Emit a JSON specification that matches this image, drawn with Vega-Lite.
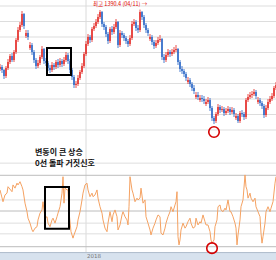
{
"$schema":"https://vega.github.io/schema/vega-lite/v6.json",
"width":276,"height":260,"padding":0,"autosize":{"type":"none"},
"config":{"view":{"stroke":null},"font":"Noto Sans CJK KR"},
"datasets":{
"candles":[
{"t":0,"o":1331,"c":1333,"h":1336,"l":1329},{"t":2,"o":1333,"c":1330,"h":1335,"l":1327},{"t":4,"o":1330,"c":1324,"h":1331,"l":1321},{"t":6,"o":1324,"c":1332,"h":1334,"l":1322},{"t":8,"o":1332,"c":1338,"h":1341,"l":1330},{"t":10,"o":1338,"c":1344,"h":1346,"l":1336},{"t":12,"o":1344,"c":1340,"h":1347,"l":1338},{"t":14,"o":1340,"c":1348,"h":1350,"l":1338},{"t":16,"o":1348,"c":1360,"h":1362,"l":1346},{"t":18,"o":1360,"c":1370,"h":1373,"l":1358},{"t":20,"o":1370,"c":1375,"h":1378,"l":1368},{"t":22,"o":1375,"c":1386,"h":1389,"l":1373},{"t":24,"o":1386,"c":1374,"h":1387,"l":1371},{"t":26,"o":1364,"c":1367,"h":1370,"l":1362},{"t":28,"o":1367,"c":1363,"h":1370,"l":1360},{"t":30,"o":1352,"c":1355,"h":1358,"l":1350},{"t":32,"o":1355,"c":1348,"h":1357,"l":1345},{"t":34,"o":1348,"c":1340,"h":1350,"l":1337},{"t":36,"o":1340,"c":1334,"h":1342,"l":1331},{"t":38,"o":1334,"c":1337,"h":1340,"l":1332},{"t":40,"o":1337,"c":1343,"h":1345,"l":1335},{"t":42,"o":1343,"c":1351,"h":1354,"l":1341},{"t":44,"o":1351,"c":1339,"h":1352,"l":1336},{"t":46,"o":1339,"c":1337,"h":1342,"l":1334},{"t":48,"o":1337,"c":1332,"h":1339,"l":1329},{"t":50,"o":1332,"c":1330,"h":1335,"l":1327},{"t":52,"o":1330,"c":1335,"h":1338,"l":1328},{"t":54,"o":1335,"c":1333,"h":1337,"l":1330},{"t":56,"o":1333,"c":1338,"h":1340,"l":1331},{"t":58,"o":1338,"c":1335,"h":1341,"l":1332},{"t":60,"o":1335,"c":1339,"h":1342,"l":1333},{"t":62,"o":1339,"c":1336,"h":1341,"l":1333},{"t":64,"o":1336,"c":1340,"h":1343,"l":1334},{"t":66,"o":1340,"c":1345,"h":1348,"l":1338},{"t":68,"o":1345,"c":1339,"h":1347,"l":1336},{"t":70,"o":1339,"c":1330,"h":1341,"l":1327},{"t":72,"o":1330,"c":1323,"h":1332,"l":1320},{"t":74,"o":1323,"c":1315,"h":1325,"l":1312},{"t":76,"o":1315,"c":1316,"h":1319,"l":1312},{"t":78,"o":1316,"c":1322,"h":1325,"l":1314},{"t":80,"o":1322,"c":1328,"h":1330,"l":1320},{"t":82,"o":1328,"c":1334,"h":1337,"l":1326},{"t":84,"o":1334,"c":1346,"h":1348,"l":1332},{"t":86,"o":1346,"c":1356,"h":1359,"l":1344},{"t":88,"o":1356,"c":1363,"h":1366,"l":1354},{"t":90,"o":1363,"c":1360,"h":1365,"l":1357},{"t":92,"o":1360,"c":1371,"h":1373,"l":1358},{"t":94,"o":1371,"c":1374,"h":1377,"l":1369},{"t":96,"o":1374,"c":1378,"h":1381,"l":1372},{"t":98,"o":1378,"c":1383,"h":1386,"l":1376},{"t":100,"o":1383,"c":1388,"h":1390,"l":1381},{"t":102,"o":1388,"c":1376,"h":1389,"l":1373},{"t":104,"o":1376,"c":1373,"h":1378,"l":1370},{"t":106,"o":1373,"c":1366,"h":1375,"l":1363},{"t":108,"o":1366,"c":1359,"h":1368,"l":1356},{"t":110,"o":1359,"c":1371,"h":1373,"l":1357},{"t":112,"o":1371,"c":1368,"h":1374,"l":1365},{"t":114,"o":1368,"c":1373,"h":1376,"l":1366},{"t":116,"o":1373,"c":1378,"h":1381,"l":1371},{"t":118,"o":1378,"c":1355,"h":1379,"l":1352},{"t":120,"o":1355,"c":1367,"h":1370,"l":1353},{"t":122,"o":1367,"c":1365,"h":1369,"l":1362},{"t":124,"o":1365,"c":1362,"h":1367,"l":1359},{"t":126,"o":1362,"c":1359,"h":1364,"l":1356},{"t":128,"o":1359,"c":1356,"h":1361,"l":1353},{"t":130,"o":1356,"c":1362,"h":1365,"l":1354},{"t":132,"o":1362,"c":1376,"h":1379,"l":1360},{"t":134,"o":1376,"c":1378,"h":1381,"l":1374},{"t":136,"o":1378,"c":1372,"h":1380,"l":1369},{"t":138,"o":1372,"c":1370,"h":1375,"l":1367},{"t":140,"o":1370,"c":1388,"h":1390.4,"l":1368},{"t":142,"o":1388,"c":1383,"h":1389,"l":1380},{"t":144,"o":1383,"c":1375,"h":1385,"l":1372},{"t":146,"o":1375,"c":1370,"h":1377,"l":1367},{"t":148,"o":1370,"c":1367,"h":1372,"l":1364},{"t":150,"o":1361,"c":1363,"h":1366,"l":1359},{"t":152,"o":1363,"c":1358,"h":1365,"l":1355},{"t":154,"o":1358,"c":1354,"h":1360,"l":1351},{"t":156,"o":1354,"c":1357,"h":1360,"l":1352},{"t":158,"o":1357,"c":1360,"h":1363,"l":1355},{"t":160,"o":1360,"c":1361,"h":1365,"l":1358},{"t":162,"o":1361,"c":1343,"h":1362,"l":1340},{"t":164,"o":1343,"c":1340,"h":1346,"l":1337},{"t":166,"o":1340,"c":1345,"h":1348,"l":1338},{"t":168,"o":1345,"c":1348,"h":1351,"l":1343},{"t":170,"o":1348,"c":1346,"h":1350,"l":1343},{"t":172,"o":1346,"c":1348,"h":1351,"l":1344},{"t":174,"o":1348,"c":1350,"h":1353,"l":1346},{"t":176,"o":1350,"c":1351,"h":1355,"l":1348},{"t":178,"o":1351,"c":1338,"h":1352,"l":1335},{"t":180,"o":1338,"c":1331,"h":1340,"l":1328},{"t":182,"o":1331,"c":1329,"h":1334,"l":1326},{"t":184,"o":1329,"c":1326,"h":1331,"l":1323},{"t":186,"o":1326,"c":1322,"h":1328,"l":1319},{"t":188,"o":1318,"c":1320,"h":1323,"l":1316},{"t":190,"o":1320,"c":1316,"h":1322,"l":1313},{"t":192,"o":1316,"c":1312,"h":1318,"l":1309},{"t":194,"o":1312,"c":1309,"h":1315,"l":1306},{"t":196,"o":1303,"c":1305,"h":1308,"l":1301},{"t":198,"o":1305,"c":1303,"h":1308,"l":1300},{"t":200,"o":1300,"c":1302,"h":1305,"l":1298},{"t":202,"o":1302,"c":1301,"h":1305,"l":1298},{"t":204,"o":1301,"c":1299,"h":1304,"l":1296},{"t":206,"o":1296,"c":1298,"h":1301,"l":1294},{"t":208,"o":1298,"c":1300,"h":1303,"l":1296},{"t":210,"o":1300,"c":1292,"h":1302,"l":1289},{"t":212,"o":1292,"c":1282,"h":1294,"l":1279},{"t":214,"o":1282,"c":1279,"h":1284,"l":1276},{"t":216,"o":1279,"c":1286,"h":1288,"l":1277},{"t":218,"o":1286,"c":1293,"h":1296,"l":1284},{"t":220,"o":1293,"c":1290,"h":1295,"l":1287},{"t":222,"o":1290,"c":1291,"h":1294,"l":1288},{"t":224,"o":1291,"c":1287,"h":1293,"l":1284},{"t":226,"o":1287,"c":1289,"h":1292,"l":1285},{"t":228,"o":1289,"c":1291,"h":1294,"l":1287},{"t":230,"o":1291,"c":1288,"h":1293,"l":1285},{"t":232,"o":1288,"c":1290,"h":1293,"l":1286},{"t":234,"o":1290,"c":1286,"h":1292,"l":1283},{"t":236,"o":1282,"c":1284,"h":1287,"l":1280},{"t":238,"o":1284,"c":1279,"h":1286,"l":1277},{"t":240,"o":1279,"c":1287,"h":1289,"l":1277},{"t":242,"o":1287,"c":1286,"h":1290,"l":1283},{"t":244,"o":1286,"c":1283,"h":1288,"l":1280},{"t":246,"o":1283,"c":1300,"h":1302,"l":1281},{"t":248,"o":1300,"c":1303,"h":1306,"l":1298},{"t":250,"o":1303,"c":1305,"h":1308,"l":1301},{"t":252,"o":1305,"c":1306,"h":1309,"l":1302},{"t":254,"o":1306,"c":1308,"h":1311,"l":1304},{"t":256,"o":1308,"c":1304,"h":1310,"l":1301},{"t":258,"o":1298,"c":1300,"h":1303,"l":1296},{"t":260,"o":1300,"c":1297,"h":1302,"l":1294},{"t":262,"o":1297,"c":1294,"h":1299,"l":1291},{"t":264,"o":1294,"c":1285,"h":1296,"l":1282},{"t":266,"o":1285,"c":1292,"h":1295,"l":1283},{"t":268,"o":1292,"c":1298,"h":1301,"l":1290},{"t":270,"o":1298,"c":1301,"h":1304,"l":1296},{"t":272,"o":1301,"c":1304,"h":1307,"l":1299},{"t":274,"o":1304,"c":1312,"h":1314,"l":1302},{"t":276,"o":1312,"c":1315,"h":1318,"l":1310}
],
"osc":[
{"t":0,"v":59},{"t":3,"v":26},{"t":5,"v":45},{"t":7,"v":50},{"t":8,"v":68},{"t":12,"v":54},{"t":13,"v":73},{"t":15,"v":64},{"t":17,"v":78},{"t":18,"v":73},{"t":20,"v":82},{"t":22,"v":68},{"t":23,"v":59},{"t":25,"v":22},{"t":27,"v":-2},{"t":28,"v":-20},{"t":30,"v":-34},{"t":32,"v":-53},{"t":33,"v":-58},{"t":35,"v":-48},{"t":37,"v":-44},{"t":38,"v":-25},{"t":40,"v":-6},{"t":42,"v":3},{"t":43,"v":26},{"t":45,"v":-20},{"t":47,"v":-16},{"t":48,"v":-34},{"t":50,"v":-44},{"t":52,"v":-25},{"t":53,"v":-20},{"t":55,"v":-34},{"t":57,"v":-16},{"t":58,"v":-6},{"t":60,"v":12},{"t":62,"v":50},{"t":63,"v":96},{"t":64,"v":22},{"t":65,"v":64},{"t":67,"v":59},{"t":68,"v":59},{"t":69,"v":-2},{"t":71,"v":-58},{"t":73,"v":-76},{"t":74,"v":-67},{"t":77,"v":-44},{"t":78,"v":-25},{"t":80,"v":-2},{"t":82,"v":31},{"t":83,"v":50},{"t":85,"v":73},{"t":87,"v":78},{"t":88,"v":59},{"t":90,"v":40},{"t":92,"v":50},{"t":93,"v":40},{"t":95,"v":45},{"t":97,"v":59},{"t":98,"v":36},{"t":100,"v":12},{"t":102,"v":-6},{"t":103,"v":-25},{"t":105,"v":-48},{"t":107,"v":-58},{"t":108,"v":-34},{"t":110,"v":-2},{"t":112,"v":-30},{"t":113,"v":-11},{"t":115,"v":3},{"t":117,"v":-16},{"t":118,"v":-53},{"t":120,"v":-39},{"t":122,"v":-11},{"t":123,"v":-2},{"t":125,"v":-16},{"t":127,"v":-25},{"t":128,"v":-39},{"t":129,"v":12},{"t":130,"v":96},{"t":132,"v":59},{"t":133,"v":50},{"t":135,"v":26},{"t":137,"v":36},{"t":138,"v":31},{"t":140,"v":36},{"t":141,"v":64},{"t":143,"v":22},{"t":145,"v":31},{"t":146,"v":-16},{"t":148,"v":-34},{"t":150,"v":-53},{"t":151,"v":-67},{"t":153,"v":-48},{"t":155,"v":-34},{"t":156,"v":-25},{"t":158,"v":-11},{"t":160,"v":-16},{"t":161,"v":-62},{"t":163,"v":-67},{"t":165,"v":-48},{"t":166,"v":-34},{"t":168,"v":-16},{"t":170,"v":-2},{"t":171,"v":12},{"t":173,"v":-2},{"t":175,"v":17},{"t":176,"v":26},{"t":177,"v":54},{"t":178,"v":-72},{"t":179,"v":-95},{"t":180,"v":-81},{"t":181,"v":-53},{"t":183,"v":-34},{"t":185,"v":-48},{"t":186,"v":-44},{"t":188,"v":-30},{"t":190,"v":-20},{"t":191,"v":-34},{"t":193,"v":-48},{"t":195,"v":-44},{"t":196,"v":-20},{"t":198,"v":-39},{"t":200,"v":-30},{"t":201,"v":-34},{"t":203,"v":-11},{"t":205,"v":-30},{"t":206,"v":-39},{"t":208,"v":-39},{"t":210,"v":-58},{"t":211,"v":-81},{"t":212,"v":-90},{"t":214,"v":-81},{"t":215,"v":-44},{"t":217,"v":-25},{"t":218,"v":12},{"t":220,"v":17},{"t":221,"v":3},{"t":223,"v":-2},{"t":225,"v":8},{"t":226,"v":3},{"t":228,"v":31},{"t":230,"v":-2},{"t":231,"v":-2},{"t":233,"v":-16},{"t":235,"v":-34},{"t":236,"v":-48},{"t":237,"v":-95},{"t":238,"v":-67},{"t":240,"v":-25},{"t":241,"v":12},{"t":243,"v":31},{"t":245,"v":101},{"t":246,"v":68},{"t":247,"v":59},{"t":248,"v":36},{"t":250,"v":50},{"t":251,"v":36},{"t":253,"v":26},{"t":255,"v":36},{"t":256,"v":12},{"t":258,"v":-2},{"t":260,"v":-16},{"t":261,"v":-62},{"t":262,"v":-90},{"t":263,"v":-72},{"t":265,"v":-34},{"t":266,"v":-2},{"t":268,"v":12},{"t":270,"v":-2},{"t":271,"v":8},{"t":273,"v":26},{"t":275,"v":78},{"t":276,"v":96}
]
},
"encoding":{"x":{"field":"t","type":"quantitative","scale":{"domain":[0,276],"nice":false,"zero":false},"axis":null}},
"layer":[
{
"encoding":{"y":{"type":"quantitative","scale":{"domain":[1140,1400],"nice":false,"zero":false},"axis":null}},
"layer":[
{"data":{"values":[{"g":1394},{"g":1378.5},{"g":1363},{"g":1347.5},{"g":1332},{"g":1316.5},{"g":1301},{"g":1285.5},{"g":1270}]},"mark":{"type":"rule","color":"#dddddd","strokeWidth":1},
 "encoding":{"x":null,"y":{"field":"g","type":"quantitative"}}},
{"data":{"values":[{"t":86}]},"mark":{"type":"rule","color":"#dadada","strokeWidth":1},
 "encoding":{"x":{"field":"t","type":"quantitative"}}},
{"data":{"name":"candles"},"mark":{"type":"rule","strokeWidth":0.8},
 "encoding":{
  "y":{"field":"l","type":"quantitative"},
  "y2":{"field":"h"},
  "color":{"condition":{"test":"datum.c >= datum.o","value":"#e3231f"},"value":"#2160c4"}}},
{"data":{"name":"candles"},"mark":{"type":"rule","strokeWidth":1.4},
 "encoding":{
  "y":{"field":"o","type":"quantitative"},
  "y2":{"field":"c"},
  "color":{"condition":{"test":"datum.c >= datum.o","value":"#e3231f"},"value":"#2160c4"}}},
{"data":{"values":[{"t0":47,"t1":71,"p0":1325,"p1":1352}]},"mark":{"type":"rect","filled":false,"stroke":"#000000","strokeWidth":2},
 "encoding":{"x":{"field":"t0","type":"quantitative"},"x2":{"field":"t1"},"y":{"field":"p0","type":"quantitative"},"y2":{"field":"p1"}}},
{"data":{"values":[{"t":214,"p":1268}]},"mark":{"type":"point","shape":"circle","filled":false,"stroke":"#d40000","strokeWidth":1.6,"size":110,"opacity":1},
 "encoding":{"x":{"field":"t","type":"quantitative"},"y":{"field":"p","type":"quantitative"}}},
{"data":{"values":[{"t":93,"p":1396,"label":"최고 1390.4 (04/11) →"}]},"mark":{"type":"text","align":"left","baseline":"middle","fontSize":5.5,"color":"#e00000"},
 "encoding":{"x":{"field":"t","type":"quantitative"},"y":{"field":"p","type":"quantitative"},"text":{"field":"label"}}}
]
},
{
"encoding":{"y":{"type":"quantitative","scale":{"domain":[-137.2,590.8],"nice":false,"zero":false},"axis":null}},
"layer":[
{"data":{"values":[{"g":134,"k":"minor"},{"g":100,"k":"major"},{"g":31,"k":"minor"},{"g":0,"k":"major"},{"g":-34,"k":"minor"},{"g":-64,"k":"minor"},{"g":-100,"k":"major"}]},"mark":{"type":"rule","strokeWidth":1},
 "encoding":{"x":null,"y":{"field":"g","type":"quantitative"},"color":{"condition":{"test":"datum.k == 'major'","value":"#bcbcbc"},"value":"#dedede"}}},
{"data":{"values":[{"b0":-116.4,"b1":-137.2}]},"mark":{"type":"rect","color":"#d7e2ee"},
 "encoding":{"x":null,"y":{"field":"b0","type":"quantitative"},"y2":{"field":"b1"}}},
{"data":{"values":[{"g":-116.4}]},"mark":{"type":"rule","color":"#aebccb","strokeWidth":1},
 "encoding":{"x":null,"y":{"field":"g","type":"quantitative"}}},
{"data":{"name":"osc"},"mark":{"type":"line","strokeWidth":1,"color":"#f5a262"},
 "encoding":{"y":{"field":"v","type":"quantitative"}}},
{"data":{"values":[{"t0":45,"t1":69,"v0":-50,"v1":67}]},"mark":{"type":"rect","filled":false,"stroke":"#000000","strokeWidth":2},
 "encoding":{"x":{"field":"t0","type":"quantitative"},"x2":{"field":"t1"},"y":{"field":"v0","type":"quantitative"},"y2":{"field":"v1"}}},
{"data":{"values":[{"t":212,"v":-104}]},"mark":{"type":"point","shape":"circle","filled":false,"stroke":"#d40000","strokeWidth":1.6,"size":110,"opacity":1},
 "encoding":{"x":{"field":"t","type":"quantitative"},"y":{"field":"v","type":"quantitative"}}},
{"data":{"values":[{"t":35,"v":162,"label":"변동이 큰 상승"},{"t":35,"v":131,"label":"0선 돌파 거짓신호"}]},"mark":{"type":"text","align":"left","baseline":"middle","fontSize":8,"fontWeight":"bold","color":"#111111"},
 "encoding":{"x":{"field":"t","type":"quantitative"},"y":{"field":"v","type":"quantitative"},"text":{"field":"label"}}},
{"data":{"values":[{"t":86,"v":-127,"label":"2018"}]},"mark":{"type":"text","align":"left","baseline":"middle","fontSize":5.5,"color":"#777777","dx":1,"font":"DejaVu Sans"},
 "encoding":{"x":{"field":"t","type":"quantitative"},"y":{"field":"v","type":"quantitative"},"text":{"field":"label"}}}
]
}
],
"resolve":{"scale":{"y":"independent"}}
}
